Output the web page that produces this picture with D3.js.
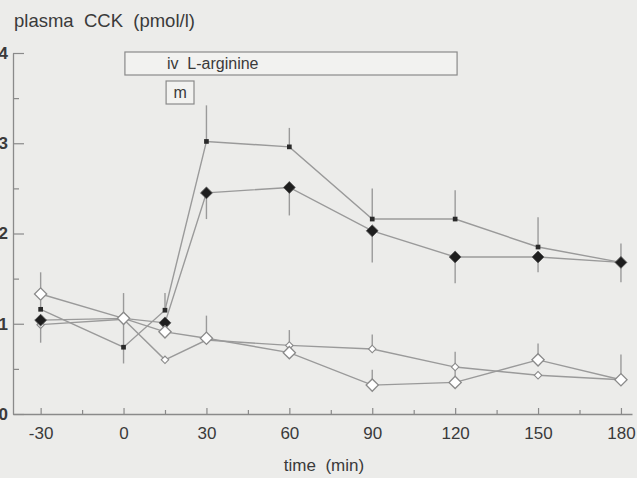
<!DOCTYPE html>
<html><head><meta charset="utf-8">
<script src="https://cdn.jsdelivr.net/npm/d3@7"></script>
<style>
html,body{margin:0;padding:0;background:#ececea;}
svg{display:block;font-family:"Liberation Sans",Arial,sans-serif;}
</style></head>
<body>
<svg id="chart" width="637" height="478"></svg>
<script>
// ---- data ----
const times = [-30, 0, 15, 30, 60, 90, 120, 150, 180];
const xTickValues = [-30, 0, 30, 60, 90, 120, 150, 180];
const xMinorTicks = [-15, 15, 45, 75, 105, 135, 165];
const yTickValues = [0, 1, 2, 3, 4];
const yMinorTicks = [0.5, 1.5, 2.5, 3.5];
// series A: small filled squares
const seriesA = [1.16, 0.74, 1.15, 3.02, 2.96, 2.16, 2.16, 1.85, 1.68];
const errA    = [0.10, 0.00, 0.19, 0.40, 0.21, 0.34, 0.32, 0.33, 0.21];
// series B: filled diamonds
const seriesB = [1.04, 1.06, 1.01, 2.45, 2.51, 2.03, 1.74, 1.74, 1.68];
const errB    = [0.25, 0.50, 0.10, 0.29, 0.31, 0.35, 0.29, 0.17, 0.22];
// series C: open diamonds
const seriesC = [1.33, 1.06, 0.91, 0.84, 0.68, 0.32, 0.35, 0.60, 0.38];
const errC    = [0.24, 0.28, 0.10, 0.25, 0.25, 0.17, 0.17, 0.18, 0.28];
// series D: small open diamonds
const seriesD = [0.99, 1.05, 0.60, 0.82, 0.76, 0.72, 0.52, 0.43, 0.38];
const errD    = [0.00, 0.00, 0.00, 0.00, 0.00, 0.16, 0.17, 0.00, 0.00];

const yTitle = "plasma  CCK  (pmol/l)";
const xTitle = "time  (min)";
const infusionLabel = "iv  L-arginine";
const infusionSpan = [0.5, 120.7];
const mealLabel = "m";
const mealSpan = [15.4, 25.5];

// ---- drawing ----
const svg = d3.select("#chart");
const x = d3.scaleLinear().domain([-40, 184]).range([13, 632]);
const y = d3.scaleLinear().domain([0, 4]).range([414, 53]);
const ink = "#3a3a3a", lineCol = "#9a9a9a", axisCol = "#8a8a8a";
const font = '"Liberation Sans",Arial,sans-serif';

// axes
const gx = svg.append("g").attr("transform", `translate(0,${y(0)})`);
gx.call(d3.axisBottom(x).tickValues(xTickValues).tickSizeInner(-6).tickSizeOuter(0).tickPadding(13)
  .tickFormat(d => d));
gx.select(".domain").attr("stroke", axisCol).attr("stroke-width", 1.3);
gx.selectAll(".tick line").attr("stroke", axisCol).attr("stroke-width", 1.2);
gx.selectAll(".tick text").attr("fill", ink).attr("font-size", 17).attr("font-family", font);
const gxm = svg.append("g").attr("transform", `translate(0,${y(0)})`);
gxm.call(d3.axisBottom(x).tickValues(xMinorTicks).tickSizeInner(-4).tickSizeOuter(0).tickFormat(""));
gxm.select(".domain").remove();
gxm.selectAll(".tick line").attr("stroke", axisCol).attr("stroke-width", 1.2);

const gy = svg.append("g").attr("transform", `translate(${x(-40)},0)`);
gy.call(d3.axisLeft(y).tickValues(yTickValues).tickSizeInner(-11).tickSizeOuter(0)
  .tickFormat(d => d));
gy.select(".domain").attr("stroke", axisCol).attr("stroke-width", 1.3);
gy.selectAll(".tick line").attr("stroke", axisCol).attr("stroke-width", 1.2);
gy.selectAll(".tick text").attr("fill", ink).attr("font-size", 17).attr("font-weight", "bold")
  .attr("x", -5).attr("text-anchor", "end").attr("font-family", font);
const gym = svg.append("g").attr("transform", `translate(${x(-40)},0)`);
gym.call(d3.axisLeft(y).tickValues(yMinorTicks).tickSizeInner(-6).tickSizeOuter(0).tickFormat(""));
gym.select(".domain").remove();
gym.selectAll(".tick line").attr("stroke", axisCol).attr("stroke-width", 1.2);

// titles
svg.append("text").attr("x", 14).attr("y", 27).attr("fill", ink).attr("font-size", 18.5)
  .style("white-space", "pre").text(yTitle);
svg.append("text").attr("x", 324).attr("y", 471).attr("text-anchor", "middle").attr("fill", ink)
  .attr("font-size", 17).style("white-space", "pre").text(xTitle);

// annotation boxes
svg.append("rect").attr("x", x(infusionSpan[0])).attr("y", 52)
  .attr("width", x(infusionSpan[1]) - x(infusionSpan[0])).attr("height", 23)
  .attr("fill", "#f2f2f0").attr("stroke", "#8a8a8a").attr("stroke-width", 1.2);
svg.append("text").attr("x", x(15.7)).attr("y", 69).attr("fill", ink).attr("font-size", 16)
  .style("white-space", "pre").text(infusionLabel);
svg.append("rect").attr("x", x(mealSpan[0])).attr("y", 81)
  .attr("width", x(mealSpan[1]) - x(mealSpan[0])).attr("height", 23)
  .attr("fill", "#f2f2f0").attr("stroke", "#8a8a8a").attr("stroke-width", 1.2);
svg.append("text").attr("x", (x(mealSpan[0]) + x(mealSpan[1])) / 2).attr("y", 98).attr("text-anchor", "middle")
  .attr("fill", ink).attr("font-size", 16).text(mealLabel);

const series = [
  {vals: seriesD, err: errD, dir: 1, sym: "smallOpen"},
  {vals: seriesA, err: errA, dir: 1, sym: "square"},
  {vals: seriesB, err: errB, dir: -1, sym: "bigFilled"},
  {vals: seriesC, err: errC, dir: 1, sym: "bigOpen"}
];

const line = d3.line().x(d => x(d.t)).y(d => y(d.v));
const gLines = svg.append("g"), gErr = svg.append("g"), gPts = svg.append("g");

series.forEach(s => {
  const pts = times.map((t, i) => ({t, v: s.vals[i], e: s.err[i]}));
  gLines.append("path").datum(pts).attr("d", line).attr("fill", "none")
    .attr("stroke", lineCol).attr("stroke-width", 1.4);
  gErr.selectAll(null).data(pts.filter(p => p.e > 0)).enter().append("line")
    .attr("x1", d => x(d.t)).attr("x2", d => x(d.t))
    .attr("y1", d => y(d.v)).attr("y2", d => y(d.v + s.dir * d.e))
    .attr("stroke", lineCol).attr("stroke-width", 1.4);
});

series.forEach(s => {
  const pts = times.map((t, i) => ({t, v: s.vals[i]}));
  const g = gPts.selectAll(null).data(pts).enter().append("path")
    .attr("transform", d => `translate(${x(d.t)},${y(d.v)}) rotate(45)`);
  if (s.sym === "square") {
    g.attr("d", d3.symbol().type(d3.symbolSquare).size(22)).attr("transform", d => `translate(${x(d.t)},${y(d.v)})`)
      .attr("fill", "#2a2a2a");
  } else if (s.sym === "bigFilled") {
    g.attr("d", d3.symbol().type(d3.symbolSquare).size(70)).attr("fill", "#1e1e1e").attr("stroke", "#555").attr("stroke-width", 0.8);
  } else if (s.sym === "bigOpen") {
    g.attr("d", d3.symbol().type(d3.symbolSquare).size(75)).attr("fill", "#ffffff").attr("stroke", "#8a8a8a").attr("stroke-width", 1.3);
  } else {
    g.attr("d", d3.symbol().type(d3.symbolSquare).size(28)).attr("fill", "#ffffff").attr("stroke", "#8a8a8a").attr("stroke-width", 1.1);
  }
});
</script>
</body></html>
